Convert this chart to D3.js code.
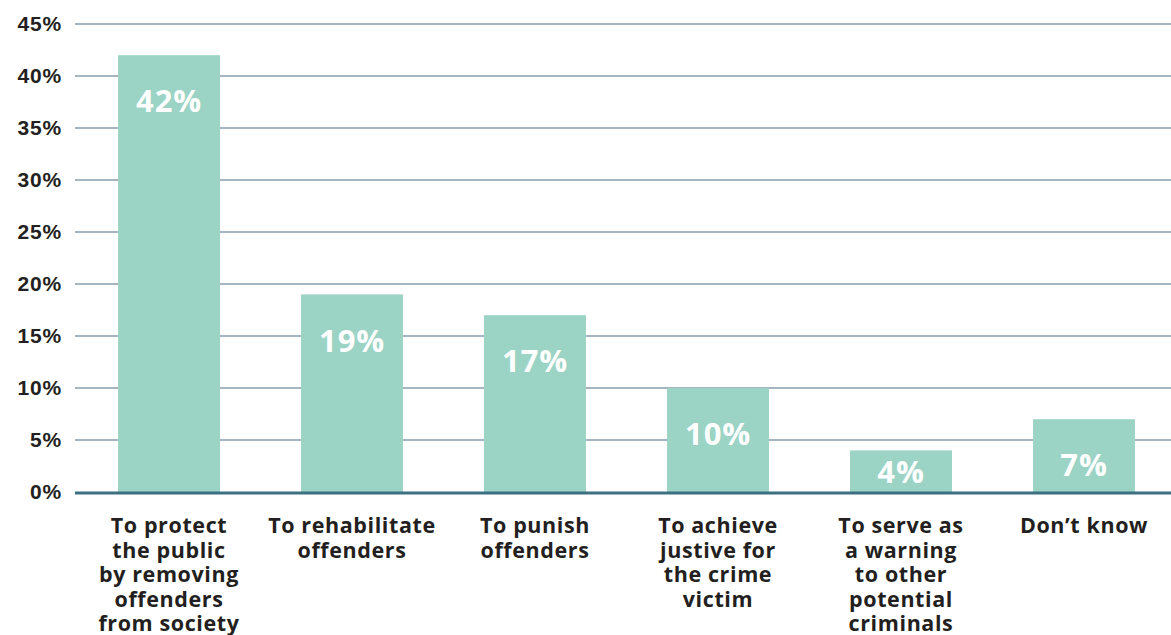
<!DOCTYPE html>
<html>
<head>
<meta charset="utf-8">
<script src="https://cdn.jsdelivr.net/npm/d3@7"></script>
<style>
  html, body { margin: 0; padding: 0; background: #fff; }
  svg { display: block; font-family: "Open Sans", "DejaVu Sans", sans-serif; }
</style>
</head>
<body>
<svg id="chart" width="1171" height="635"></svg>
<script>
// Survey responses: main purpose of prison sentences
const categories = [
  ["To protect", "the public", "by removing", "offenders", "from society"],
  ["To rehabilitate", "offenders"],
  ["To punish", "offenders"],
  ["To achieve", "justive for", "the crime", "victim"],
  ["To serve as", "a warning", "to other", "potential", "criminals"],
  ["Don\u2019t know"]
];
const values = [42, 19, 17, 10, 4, 7];
const yTicks = [0, 5, 10, 15, 20, 25, 30, 35, 40, 45];

const svg = d3.select("#chart");
const gridLeft = 75, gridRight = 1171;
const yBase = 492, yTop = 24;

const x = d3.scaleBand()
  .domain(d3.range(values.length))
  .range([77.5, 1175.5])
  .paddingInner(0.443)
  .paddingOuter(0.2215);

const y = d3.scaleLinear().domain([0, 45]).range([yBase, yTop]);

// Horizontal gridlines
svg.append("g")
  .selectAll("line")
  .data(yTicks.filter(t => t > 0))
  .join("line")
  .attr("x1", gridLeft).attr("x2", gridRight)
  .attr("y1", d => y(d)).attr("y2", d => y(d))
  .attr("stroke", "#a5b5c3").attr("stroke-width", 2);

// Y axis tick labels
const yAxis = d3.axisLeft(y).tickValues(yTicks).tickFormat(d => d + "%").tickSize(0).tickPadding(0);
const yg = svg.append("g").attr("transform", "translate(62,0)").call(yAxis);
yg.select(".domain").remove();
yg.selectAll("text")
  .attr("fill", "#231f20")
  .style("font-size", "21px")
  .style("font-weight", 700)
  .style("letter-spacing", "0.8px");

// Bars
svg.append("g")
  .selectAll("rect")
  .data(values)
  .join("rect")
  .attr("x", (d, i) => x(i))
  .attr("width", x.bandwidth())
  .attr("y", d => y(d))
  .attr("height", d => yBase - y(d))
  .attr("fill", "#9bd3c5");

// Baseline
svg.append("line")
  .attr("x1", gridLeft).attr("x2", gridRight)
  .attr("y1", yBase + 1).attr("y2", yBase + 1)
  .attr("stroke", "#3a7082").attr("stroke-width", 3);

// Value labels inside bars
svg.append("g")
  .selectAll("text")
  .data(values)
  .join("text")
  .attr("x", (d, i) => x(i) + x.bandwidth() / 2)
  .attr("y", d => Math.min(y(d) + 46, yBase - 20))
  .attr("dy", "0.36em")
  .attr("text-anchor", "middle")
  .attr("fill", "#fff")
  .style("font-size", "31px")
  .style("font-weight", 700)
  .style("letter-spacing", "0.8px")
  .text(d => d + "%");

// Category labels
const cat = svg.append("g")
  .selectAll("text")
  .data(categories)
  .join("text")
  .attr("x", (d, i) => x(i) + x.bandwidth() / 2)
  .attr("y", 533)
  .attr("text-anchor", "middle")
  .attr("fill", "#231f20")
  .style("font-size", "21.5px")
  .style("font-weight", 700)
  .style("letter-spacing", "0.6px");
cat.selectAll("tspan")
  .data(d => d)
  .join("tspan")
  .attr("x", function () { return this.parentNode.getAttribute("x"); })
  .attr("dy", (d, i) => i === 0 ? 0 : 24.6)
  .text(d => d);
</script>
</body>
</html>
